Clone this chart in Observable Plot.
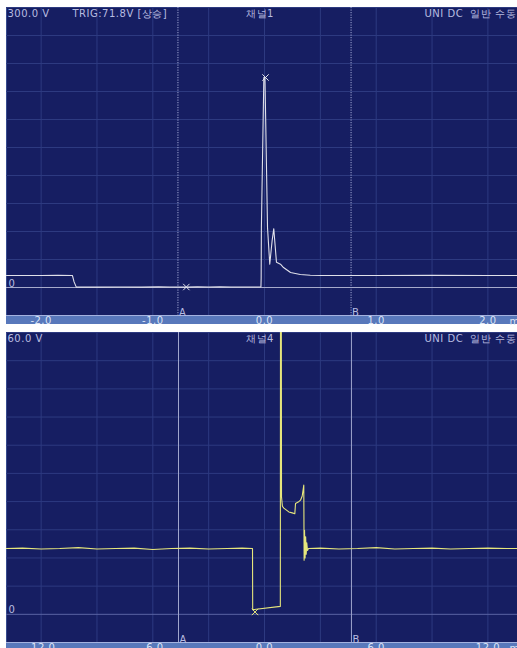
<!DOCTYPE html>
<html><head><meta charset="utf-8">
<script src="https://cdn.jsdelivr.net/npm/d3@7"></script>
<script src="https://cdn.jsdelivr.net/npm/@observablehq/plot@0.6"></script>
<style>
html,body{margin:0;padding:0;background:#fff;overflow:hidden;width:517px;height:648px}
#p1{position:absolute;left:6px;top:7px}
#p2{position:absolute;left:6px;top:332px}
svg{display:block}
</style></head><body><div id="p1"></div><div id="p2"></div>
<script>
// ---- Channel 1 (ms, V) ----
const ch1Time = [-2.31, -2.0, -1.85, -1.72, -1.705, -1.685, -1.5, -1.3, -1.1, -0.95,
                 -0.85, -0.7, -0.6, -0.5, -0.4, -0.3, -0.2, -0.1, -0.04, -0.032,
                 -0.030, -0.028, -0.006, 0.004, 0.027, 0.047, 0.068, 0.083, 0.095, 0.107,
                 0.143, 0.17, 0.233, 0.32, 0.41, 0.51, 1.0, 1.5, 2.0, 2.27];
const ch1Volt = [12.9, 12.9, 13.0, 12.9, 6, 0.4, 0.4, 0.5, 0.4, 0.7,
                 0.5, 0.4, 0.7, 0.5, 0.8, 0.5, 0.6, 0.5, 0.6, 0.5,
                 10, 64, 225, 225, 64, 25, 50, 63, 45, 27,
                 25, 21.4, 16, 14, 13.2, 12.9, 12.9, 13.0, 12.9, 12.9];
const ch1Ticks = [-2, -1, 0, 1, 2];
const ch1Cursors = [-0.775, 0.775];
const ch1MarkT = [0.009, -0.70];
const ch1MarkV = [225, 0.5];
const ch1Header = ["300.0 V", "TRIG:71.8V [상승]", "채널1", "UNI DC  일반 수동"];

// ---- Channel 4 (ms, V) ----
const ch4Time = [-13.9, -13, -12, -11, -10, -9, -8, -7, -6, -5,
                 -4, -3, -2, -1.2, -0.66, -0.645, -0.635, 0.85, 0.86, 0.90,
                 0.913, 0.96, 1.037, 1.305, 1.488, 1.628, 1.665, 1.81, 1.934, 2.025,
                 2.11, 2.127, 2.15, 2.18, 2.21, 2.24, 2.27, 2.31, 2.364, 3,
                 4, 5, 6, 7, 8, 9, 10, 11, 12, 13, 13.6];
const ch4Volt = [14.0, 14.1, 13.9, 14.0, 14.2, 13.9, 14.0, 14.1, 13.8, 14.0,
                 14.1, 13.9, 14.0, 14.1, 14.0, 14.0, 1.0, 1.7, 75, 75,
                 25, 23, 22.6, 21.8, 21.6, 21.4, 23.6, 23.9, 24.3, 25.2,
                 27.5, 11.5, 17.9, 12, 16.5, 12.8, 15.2, 13.6, 14.0, 14.1,
                 13.9, 14.0, 14.2, 13.9, 14.0, 14.1, 13.9, 14.0, 14.1, 14.0, 14.0];
const ch4Ticks = [-12, -6, 0, 6, 12];
const ch4Cursors = [-4.62, 4.67];
const ch4MarkT = [-0.51];
const ch4MarkV = [0.5];
const ch4Header = ["60.0 V", "", "채널4", "UNI DC  일반 수동"];

const cursorNames = ["A", "B"];
const unitLabel = "ms";

const NAVY = "#161e62", BAR = "#5878bb", GRID = "#2d3a80", TXT = "#b8bce0";
const FONT = "DejaVu Sans";

function fmt(d) { return (d < 0 ? "-" : "") + Math.abs(d).toFixed(1); }

function scope(cfg) {
  const data = cfg.t.map((t, i) => ({t, v: cfg.v[i]}));
  const marks = cfg.mt.map((t, i) => ({t, v: cfg.mv[i]}));
  const hd = cfg.header;
  const txt = {fill: TXT, fontSize: 10, fontFamily: FONT, lineAnchor: "top", stroke: null};
  return Plot.plot({
    width: 511, height: cfg.height,
    marginTop: 0, marginRight: 0, marginLeft: 0, marginBottom: cfg.mb,
    style: {background: BAR, fontFamily: FONT, fontSize: "10px", letterSpacing: "0.5px", overflow: "visible"},
    x: {domain: cfg.xd, axis: null},
    y: {domain: cfg.yd, axis: null},
    marks: [
      Plot.frame({fill: NAVY}),
      Plot.gridX(cfg.gx, {stroke: GRID, strokeOpacity: 1}),
      Plot.gridY(cfg.gy, {stroke: GRID, strokeOpacity: 1}),
      Plot.ruleY([0], {stroke: cfg.zero}),
      Plot.ruleY([cfg.yd[0]], {stroke: "#a4b2e0"}),
      Plot.ruleX(cfg.cur, {stroke: cfg.curColor, strokeDasharray: cfg.dash}),
      Plot.text(cursorNames, {x: (d, i) => cfg.cur[i], text: d => d, frameAnchor: "bottom", lineAnchor: "bottom", textAnchor: "start", dx: 1, dy: 0, fill: TXT, fontSize: 10}),
      Plot.text(["0"], {frameAnchor: "left", y: 0, text: d => d, textAnchor: "start", lineAnchor: "bottom", dx: 2, dy: -1, fill: TXT, fontSize: 10}),
      Plot.line(data, {x: "t", y: "v", stroke: cfg.color, strokeWidth: 1.1, clip: true}),
      Plot.dot(marks, {x: "t", y: "v", symbol: "times", r: 3, stroke: cfg.color, strokeWidth: 1}),
      Plot.axisX(cfg.ticks, {tickSize: 0, tickPadding: 1, tickFormat: fmt, fill: "#dce4f6", fontSize: 10, label: null}),
      Plot.text([unitLabel], {frameAnchor: "bottom-right", text: d => d, textAnchor: "start", lineAnchor: "top", dx: -8, dy: 2, fill: "#dce4f6", fontSize: 10}),
      Plot.text([hd[0]], {...txt, frameAnchor: "top-left", text: d => d, textAnchor: "start", dx: 1, dy: 2}),
      Plot.text([hd[1]], {...txt, frameAnchor: "top-left", text: d => d, textAnchor: "start", dx: 66, dy: 2}),
      Plot.text([hd[2]], {...txt, frameAnchor: "top", text: d => d, textAnchor: "middle", dx: -2, dy: 2}),
      Plot.text([hd[3]], {...txt, frameAnchor: "top-left", text: d => d, textAnchor: "start", dx: 418, dy: 2})
    ]
  });
}

document.getElementById("p1").append(scope({
  t: ch1Time, v: ch1Volt, mt: ch1MarkT, mv: ch1MarkV, header: ch1Header,
  height: 317, mb: 9, xd: [-2.31, 2.265], yd: [-30, 300],
  gx: d3.range(-2, 2.01, 0.5), gy: d3.range(30, 301, 30),
  ticks: ch1Ticks, cur: ch1Cursors, curColor: "#a2a8d4", dash: "1.2,1.3",
  zero: "#a6aacb", color: "#e0e0ea"
}));

document.getElementById("p2").append(scope({
  t: ch4Time, v: ch4Volt, mt: ch4MarkT, mv: ch4MarkV, header: ch4Header,
  height: 320, mb: 10, xd: [-13.86, 13.59], yd: [-6, 60],
  gx: d3.range(-12, 12.01, 3), gy: d3.range(6, 61, 6),
  ticks: ch4Ticks, cur: ch4Cursors, curColor: "#a0a6cc", dash: null,
  zero: "#5a64a4", color: "#e6e67c"
}));
</script>
</body></html>
